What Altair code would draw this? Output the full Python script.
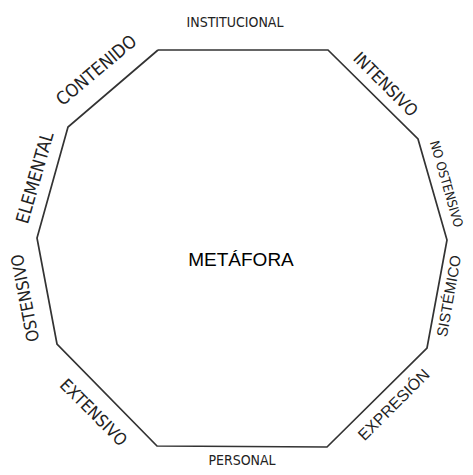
import altair as alt
import pandas as pd

# decagon vertices (clockwise from top-left), in picture coordinates
vx = [158, 328, 418, 447, 427, 327, 157, 57, 37, 68]
vy = [50, 50, 139, 240, 348, 447, 446, 344, 238, 127]

# side labels
labels = ["INSTITUCIONAL", "INTENSIVO", "NO OSTENSIVO", "SISTÉMICO", "EXPRESIÓN",
          "PERSONAL", "EXTENSIVO", "OSTENSIVO", "ELEMENTAL", "CONTENIDO"]
lx = [235, 385, 446, 449, 394, 242, 93, 26, 36, 97]
ly = [23, 85, 184, 296, 405, 461, 413, 298, 178, 71]
la = [0, 45, 74, 280, 315, 0, 45, 259, 286, 320]
ls = [14, 17, 13, 15, 16, 14, 17, 17, 18, 18]
narrow = [True, True, True, False, False, True, True, True, True, True]

center_label = ["METÁFORA"]

poly = pd.DataFrame({
    "x": vx + [vx[0]],
    "y": vy + [vy[0]],
    "o": list(range(len(vx) + 1)),
})
lab = pd.DataFrame({"t": labels, "x": lx, "y": ly, "a": la, "s": ls, "n": narrow})
cen = pd.DataFrame({"t": center_label, "x": [241], "y": [260]})

xs = alt.Scale(domain=[8, 465], nice=False, zero=False)
ys = alt.Scale(domain=[8, 467], nice=False, zero=False, reverse=True)
X = lambda: alt.X("x:Q", scale=xs, axis=None)
Y = lambda: alt.Y("y:Q", scale=ys, axis=None)

line = alt.Chart(poly).mark_line(color="#333333", strokeWidth=1.7).encode(
    x=X(), y=Y(), order="o:O")

narrow_txt = alt.Chart(lab).transform_filter("datum.n").mark_text(
    font="Liberation Sans Narrow, DejaVu Sans Condensed, sans-serif",
    color="#222222", baseline="middle", align="center").encode(
    x=X(), y=Y(), text="t:N", angle=alt.Angle("a:Q", scale=None),
    size=alt.Size("s:Q", scale=None, legend=None))

reg_txt = alt.Chart(lab).transform_filter("!datum.n").mark_text(
    font="Liberation Sans, Arial, sans-serif",
    color="#222222", baseline="middle", align="center").encode(
    x=X(), y=Y(), text="t:N", angle=alt.Angle("a:Q", scale=None),
    size=alt.Size("s:Q", scale=None, legend=None))

cen_txt = alt.Chart(cen).mark_text(
    font="Liberation Sans, Arial, sans-serif", fontSize=19, color="#000000",
    baseline="middle", align="center").encode(x=X(), y=Y(), text="t:N")

chart = alt.layer(line, narrow_txt, reg_txt, cen_txt).properties(
    width=457, height=459, padding=0, autosize="none"
).configure_view(stroke=None)

chart.save("out.html", embed_options={"renderer": "svg", "actions": False})
